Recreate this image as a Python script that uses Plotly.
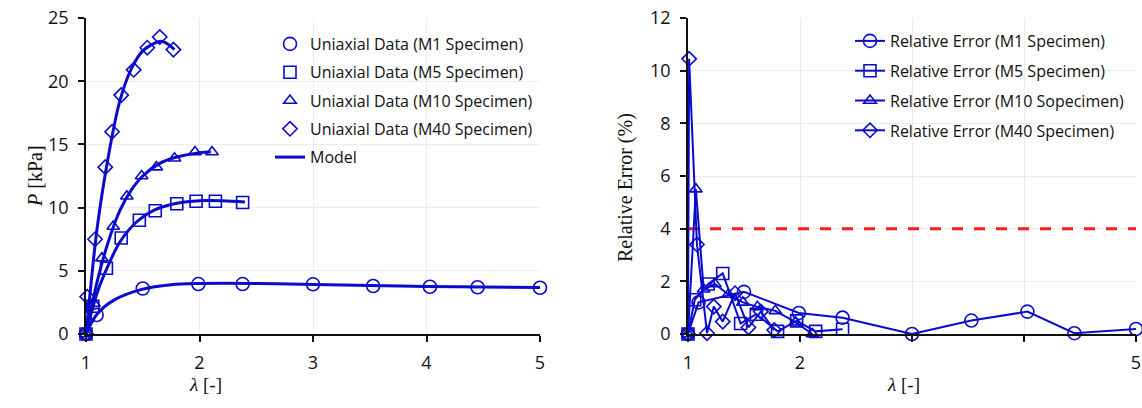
import plotly.graph_objects as go

# ---------------- data ----------------
lam_m1 = [1.0, 1.094, 1.5, 1.99, 2.38, 3.0, 3.53, 4.03, 4.45, 5.0]
p_m1 = [0.0, 1.5, 3.6, 3.95, 3.95, 3.93, 3.8, 3.74, 3.7, 3.66]

lam_m5 = [1.0, 1.06, 1.18, 1.31, 1.47, 1.61, 1.80, 1.97, 2.14, 2.38]
p_m5 = [0.0, 2.2, 5.2, 7.6, 9.0, 9.75, 10.3, 10.5, 10.5, 10.4]

lam_m10 = [1.0, 1.07, 1.14, 1.24, 1.36, 1.49, 1.62, 1.78, 1.96, 2.11]
p_m10 = [0.0, 2.4, 6.0, 8.5, 10.9, 12.5, 13.2, 13.9, 14.4, 14.4]

lam_m40 = [1.0, 1.01, 1.08, 1.17, 1.23, 1.31, 1.42, 1.54, 1.65, 1.77]
p_m40 = [0.0, 2.95, 7.5, 13.2, 16.0, 18.9, 20.9, 22.65, 23.5, 22.5]

# model curves (read points)
mod_lam_m1 = [1.0, 1.1, 1.25, 1.5, 1.75, 2.0, 2.5, 3.0, 3.5, 4.0, 4.5, 5.0]
mod_p_m1 = [0.0, 1.6, 2.7, 3.55, 3.9, 4.0, 4.0, 3.92, 3.83, 3.76, 3.71, 3.68]
mod_lam_m5 = [1.0, 1.1, 1.2, 1.3, 1.45, 1.6, 1.8, 2.0, 2.2, 2.4]
mod_p_m5 = [0.0, 3.3, 5.5, 7.3, 8.9, 9.8, 10.35, 10.55, 10.55, 10.45]
mod_lam_m10 = [1.0, 1.1, 1.2, 1.3, 1.4, 1.5, 1.65, 1.8, 2.0, 2.1]
mod_p_m10 = [0.0, 4.2, 7.4, 9.8, 11.4, 12.5, 13.5, 14.0, 14.35, 14.4]
mod_lam_m40 = [1.0, 1.05, 1.1, 1.2, 1.3, 1.4, 1.5, 1.6, 1.65, 1.7, 1.78]
mod_p_m40 = [0.0, 4.5, 8.5, 14.2, 18.5, 21.0, 22.4, 23.0, 23.15, 23.05, 22.5]

# relative errors (%)
err_m1 = [0.0, 1.2, 1.6, 0.8, 0.62, 0.0, 0.51, 0.85, 0.03, 0.19]
err_m5 = [0.0, 1.3, 1.9, 2.3, 0.4, 0.75, 0.1, 0.5, 0.1, 0.18]
err_m10 = [0.0, 5.5, 1.7, 1.9, 1.5, 1.2, 1.03, 0.88, 0.45, 0.0]
err_m40 = [0.0, 10.45, 3.4, 0.03, 1.04, 0.47, 1.55, 0.25, 0.85, 0.15]

thr_x = [1.0, 5.0]
thr_y = [4.0, 4.0]

x_ticks = [1, 2, 3, 4, 5]
x_ticktext_right = ["1", "2", "", "", "5"]

names_left = ["Uniaxial Data (M1 Specimen)", "Uniaxial Data (M5 Specimen)",
              "Uniaxial Data (M10 Specimen)", "Uniaxial Data (M40 Specimen)"]
names_right = ["Relative Error (M1 Specimen)", "Relative Error (M5 Specimen)",
               "Relative Error (M10 Sopecimen)", "Relative Error (M40 Specimen)"]
symbols = ["circle-open", "square-open", "triangle-up-open", "diamond-open"]
msizes = [13, 12, 11, 11]

# ---------------- figure ----------------
BLUE = "#0a0acc"
W, H = 1142, 408
TOP = 18
BOT = H - 334
PH = H - TOP - BOT


def fx(page_x):
    return page_x / W


def fy(page_y):
    return 1 - (page_y - TOP) / PH


fig = go.Figure()

lams = [lam_m1, lam_m5, lam_m10, lam_m40]
ps = [p_m1, p_m5, p_m10, p_m40]
errs = [err_m1, err_m5, err_m10, err_m40]
mods = [(mod_lam_m1, mod_p_m1), (mod_lam_m5, mod_p_m5),
        (mod_lam_m10, mod_p_m10), (mod_lam_m40, mod_p_m40)]

for i, (mx, my) in enumerate(mods):
    fig.add_trace(go.Scatter(
        x=mx, y=my, mode="lines", line=dict(color=BLUE, width=3, shape="spline"),
        name="Model", showlegend=(i == 0), legendrank=5, legendgroup="model",
        legend="legend", xaxis="x", yaxis="y", cliponaxis=False))

for i in range(4):
    fig.add_trace(go.Scatter(
        x=lams[i], y=ps[i], mode="markers", name=names_left[i],
        marker=dict(symbol=symbols[i], size=msizes[i], color=BLUE,
                    line=dict(width=1.6, color=BLUE)),
        legendrank=i + 1, legendgroup="l%d" % i, legend="legend",
        xaxis="x", yaxis="y", cliponaxis=False))

fig.add_trace(go.Scatter(
    x=thr_x, y=thr_y, mode="lines", line=dict(color="#ff1a1a", width=3, dash="11px,11px"),
    showlegend=False, xaxis="x2", yaxis="y2", cliponaxis=False))

for i in range(4):
    fig.add_trace(go.Scatter(
        x=lams[i], y=errs[i], mode="lines+markers", name=names_right[i],
        line=dict(color=BLUE, width=2),
        marker=dict(symbol=symbols[i], size=msizes[i], color=BLUE,
                    line=dict(width=1.6, color=BLUE)),
        legendrank=i + 1, legendgroup="r%d" % i, legend="legend2",
        xaxis="x2", yaxis="y2", cliponaxis=False))

tickfont = dict(family="Open Sans", size=18, color="#111111")
axis_common = dict(showline=True, linecolor="#111111", linewidth=1.5,
                   ticks="outside", ticklen=6, tickcolor="#111111", tickwidth=1.5,
                   showgrid=True, gridcolor="#ececec", gridwidth=1.2, zeroline=False,
                   tickfont=tickfont, automargin=False, fixedrange=True,
                   ticklabelstandoff=6, ticklabeloverflow="allow")
inner_ticks = dict(showline=False, ticks="inside", ticklen=6, tickcolor="#111111",
                   tickwidth=1.5, showgrid=False, zeroline=False, showticklabels=False,
                   automargin=False, fixedrange=True)

legfont = dict(family="Open Sans", size=16, color="#111111")
fig.update_layout(
    width=W, height=H,
    margin=dict(l=0, r=0, t=TOP, b=BOT, autoexpand=False),
    paper_bgcolor="white", plot_bgcolor="white",
    hovermode=False,
    xaxis=dict(domain=[fx(86), fx(540)], range=[1, 5], tickvals=x_ticks,
               anchor="y", **axis_common),
    yaxis=dict(domain=[0, 1], range=[0, 25], tickvals=[0, 5, 10, 15, 20, 25],
               anchor="x", **axis_common),
    xaxis2=dict(domain=[fx(688), fx(1136)], range=[1, 5], tickvals=x_ticks,
                ticktext=x_ticktext_right, anchor="y2", **axis_common),
    yaxis2=dict(domain=[0, 1], range=[0, 12], tickvals=[0, 2, 4, 6, 8, 10, 12],
                anchor="x2", **axis_common),
    xaxis3=dict(overlaying="x", anchor="y", range=[1, 5], tickvals=x_ticks, **inner_ticks),
    yaxis3=dict(overlaying="y", anchor="x", range=[0, 25], dtick=5, **inner_ticks),
    xaxis4=dict(overlaying="x2", anchor="y2", range=[1, 5], tickvals=x_ticks, **inner_ticks),
    yaxis4=dict(overlaying="y2", anchor="x2", range=[0, 12], dtick=2, **inner_ticks),
    legend=dict(x=fx(270), y=fy(27), xref="paper", yref="paper",
                xanchor="left", yanchor="top", font=legfont,
                bgcolor="rgba(255,255,255,0)", traceorder="grouped", tracegroupgap=4.5),
    legend2=dict(x=fx(850), y=fy(24), xref="paper", yref="paper",
                 xanchor="left", yanchor="top", font=legfont,
                 bgcolor="rgba(255,255,255,0)", traceorder="grouped", tracegroupgap=6),
    showlegend=True,
    annotations=[
        dict(text="<i>P</i> [kPa]", x=fx(35), y=0.5, xref="paper", yref="paper",
             xanchor="center", yanchor="middle", showarrow=False, textangle=-90,
             font=dict(family="Liberation Serif", size=20, color="#111111")),
        dict(text="Relative Error (%)", x=fx(625), y=fy(188), xref="paper", yref="paper",
             xanchor="center", yanchor="middle", showarrow=False, textangle=-90,
             font=dict(family="Liberation Serif", size=20, color="#111111")),
        dict(text="<i>λ</i> [-]", x=fx(205), y=fy(384), xref="paper", yref="paper",
             xanchor="center", yanchor="middle", showarrow=False,
             font=dict(family="Liberation Serif", size=19, color="#111111")),
        dict(text="<i>λ</i> [-]", x=fx(903), y=fy(384), xref="paper", yref="paper",
             xanchor="center", yanchor="middle", showarrow=False,
             font=dict(family="Liberation Serif", size=19, color="#111111")),
    ],
)

fig.write_html("out.html", config={"displayModeBar": False},
               post_script="document.body.style.margin='0';document.body.style.overflow='hidden';")
